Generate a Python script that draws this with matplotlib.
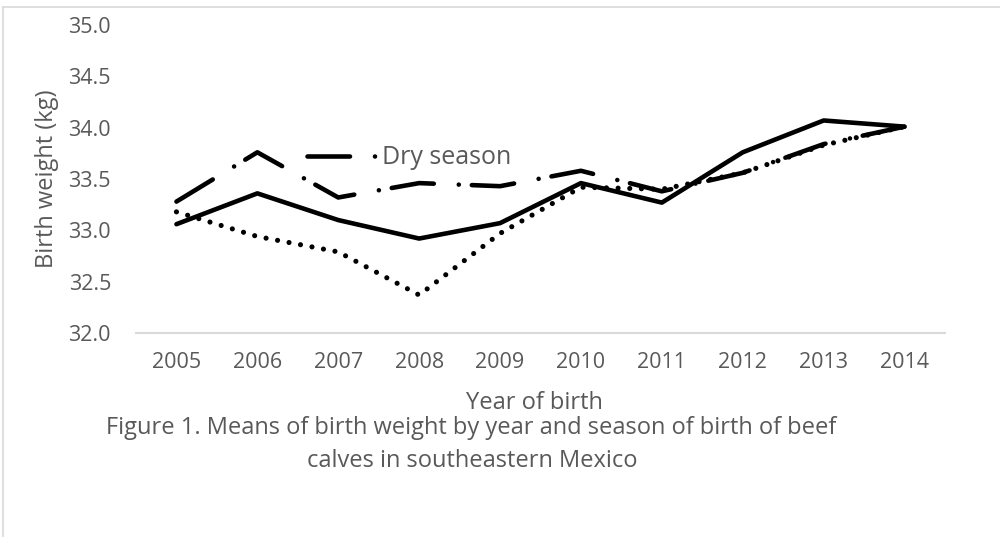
import matplotlib
matplotlib.use("Agg")
import matplotlib.pyplot as plt
from matplotlib.lines import Line2D

# Mean birth weight (kg) per year of birth, one list per season
years = ["2005", "2006", "2007", "2008", "2009", "2010", "2011", "2012", "2013", "2014"]
season_solid = [33.06, 33.36, 33.10, 32.92, 33.07, 33.46, 33.27, 33.76, 34.07, 34.01]
season_dotted = [33.18, 32.94, 32.79, 32.37, 32.97, 33.42, 33.40, 33.56, 33.83, 34.01]
dry_season = [33.28, 33.76, 33.32, 33.46, 33.43, 33.58, 33.38, 33.56, 33.84, 34.01]
yticks = [32.0, 32.5, 33.0, 33.5, 34.0, 34.5, 35.0]

plt.rcParams["font.family"] = ["Open Sans", "DejaVu Sans"]
plt.rcParams["lines.scale_dashes"] = False
grey = "#595959"

fig = plt.figure(figsize=(10, 5.37), dpi=100)
ax = fig.add_axes([0.136, 1 - 333 / 537, 0.809, 308 / 537])

x = range(len(years))
lw = 3.3
ax.plot(x, season_dotted, color="black", lw=3.7, dashes=(0.01, 8.4),
        dash_capstyle="round", solid_joinstyle="round")
ax.plot(x, season_solid, color="black", lw=lw, solid_capstyle="round",
        solid_joinstyle="round")
dry_line, = ax.plot(x, dry_season, color="black", lw=lw,
                    dashes=(30.6, 18, 0.01, 9.4), dash_capstyle="round")

ax.set_xlim(-0.5, len(years) - 0.5)
ax.set_ylim(32.0, 35.0)
ax.set_xticks(list(x))
ax.set_xticklabels(years)
ax.set_yticks(yticks)
ax.set_yticklabels([f"{v:.1f}" for v in yticks])
ax.tick_params(axis="both", length=0, labelsize=15.5, colors=grey)
ax.tick_params(axis="y", pad=18)
ax.tick_params(axis="x", pad=14)

for side in ["top", "right", "left"]:
    ax.spines[side].set_visible(False)
ax.spines["bottom"].set_color("#d9d9d9")
ax.spines["bottom"].set_linewidth(1.5)

ax.set_xlabel("Year of birth", fontsize=17, color=grey, va="center")
ax.xaxis.set_label_coords(0.492, -0.227)
ax.set_ylabel("Birth weight (kg)", fontsize=17, color=grey, va="center")
ax.yaxis.set_label_coords(-0.110, 0.5)

# legend entry for the dry season, sitting inside the plot
leg = ax.legend([dry_line], ["Dry season"], loc="center left",
                bbox_to_anchor=(307 / 1000, 1 - 158 / 537),
                bbox_transform=fig.transFigure, frameon=False,
                fontsize=18, handlelength=2.72, handletextpad=0.3,
                borderpad=0, borderaxespad=0)
for t in leg.get_texts():
    t.set_color(grey)

fig.text(0.471, 1 - 428 / 537,
         "Figure 1. Means of birth weight by year and season of birth of beef",
         ha="center", va="center", fontsize=17, color=grey)
fig.text(0.472, 1 - 461 / 537, "calves in southeastern Mexico",
         ha="center", va="center", fontsize=17, color=grey)

# chart area border (left and top edges)
fig.add_artist(Line2D([0.003, 0.003], [0, 1 - 7 / 537], color="#d9d9d9",
                      lw=1.2, transform=fig.transFigure))
fig.add_artist(Line2D([0.003, 1], [1 - 7 / 537, 1 - 7 / 537], color="#d9d9d9",
                      lw=1.2, transform=fig.transFigure))

fig.savefig("out.png", dpi=100)
